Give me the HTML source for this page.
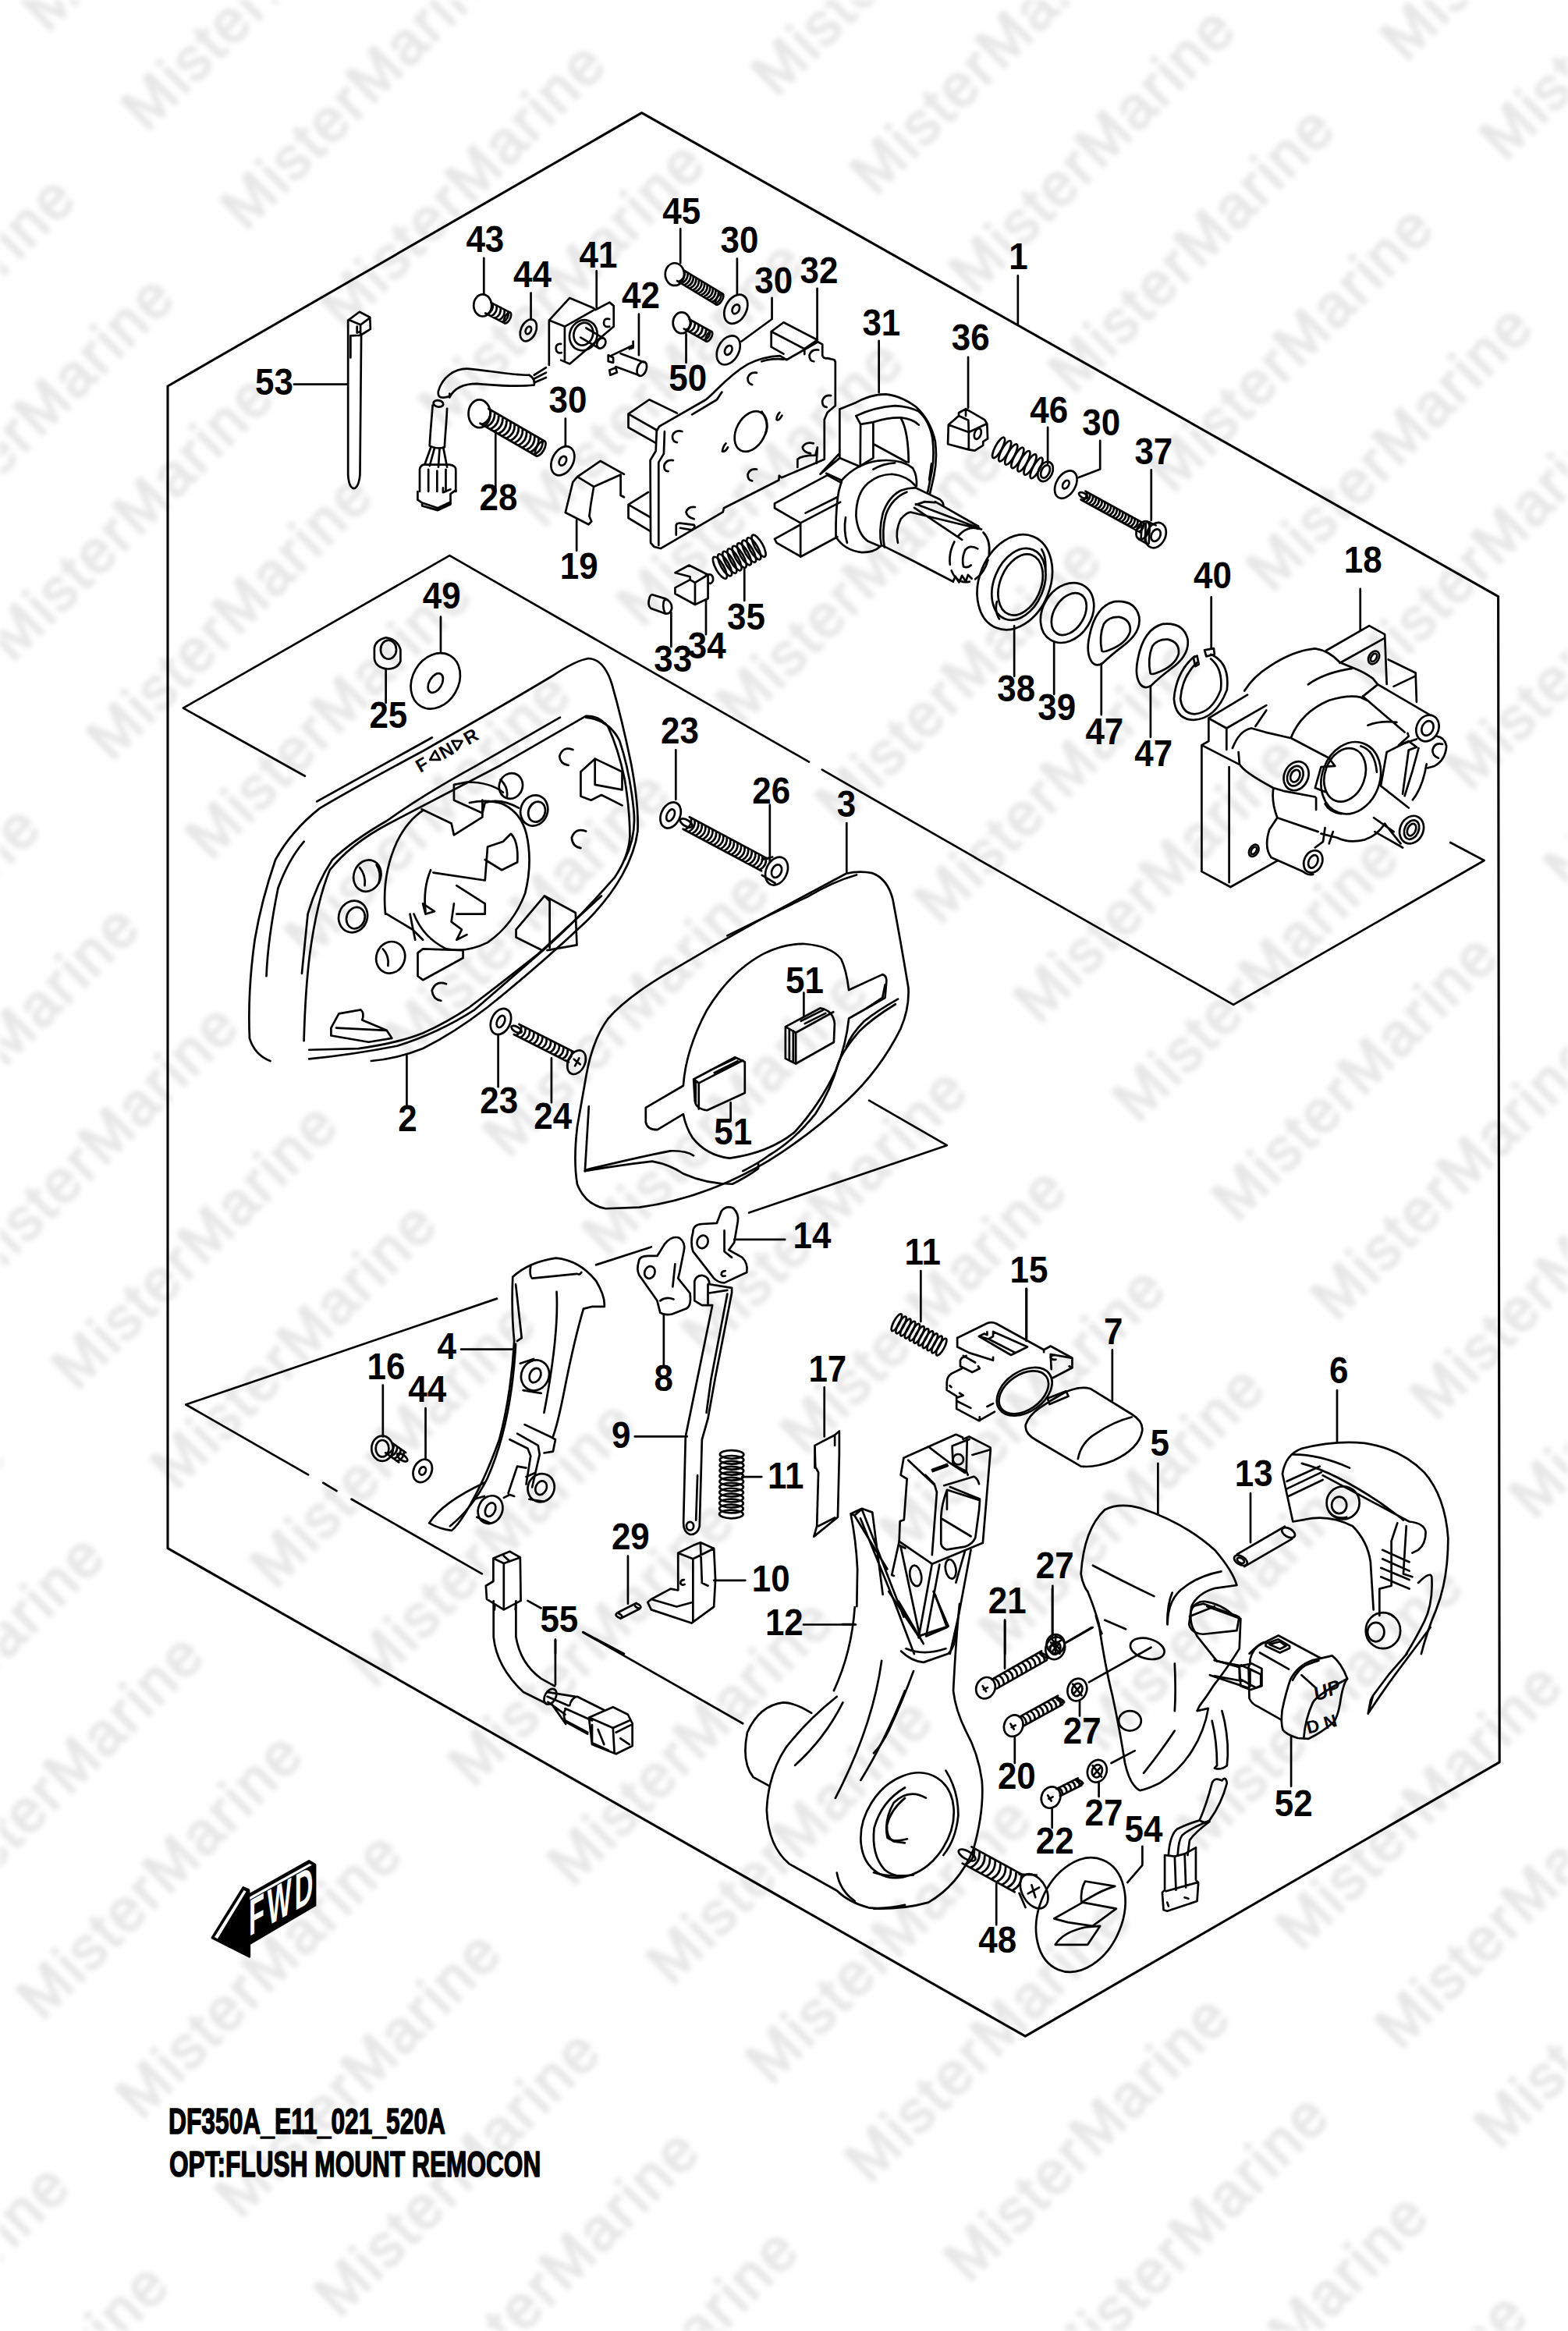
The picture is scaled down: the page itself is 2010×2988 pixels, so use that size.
<!DOCTYPE html>
<html><head><meta charset="utf-8"><style>
html,body{margin:0;padding:0;background:#fff;}
svg{display:block;}
.L{font-family:"Liberation Sans",sans-serif;font-weight:bold;font-size:48px;fill:#000;}
.t *{vector-effect:non-scaling-stroke;}
.w{font-family:"Liberation Sans",sans-serif;font-weight:normal;font-size:76px;letter-spacing:3.5px;fill:#e7e7e7;stroke:#e7e7e7;stroke-width:2.6px;}
</style></head><body>
<svg width="2010" height="2988" viewBox="0 0 2010 2988">
<defs>
<pattern id="wm" patternUnits="userSpaceOnUse" width="602.3" height="179.7" patternTransform="translate(1249,380) rotate(-45) translate(0,-130)">
<text class="w" x="0" y="130">MisterMarine</text>
</pattern>
<filter id="bl" x="0" y="0" width="1" height="1"><feGaussianBlur stdDeviation="3"/></filter>
</defs>
<rect x="0" y="0" width="2010" height="2988" fill="url(#wm)" filter="url(#bl)"/>
<g fill="none" stroke="#000" stroke-width="3.1" stroke-linejoin="round" stroke-linecap="round">
<path d="M215,495 L822.6,144.7 L1920.6,764.6 L1922.2,2258.8 L1314.3,2610.2 L215,1984.7 Z"/>
</g>
<g class="t" fill="none" stroke="#000" stroke-width="2.7" stroke-linejoin="round" stroke-linecap="round"><g transform="translate(200,130) scale(0.318878)"><path d="M555,1137 L770,1137"/><path d="M772,880 L818,846 L860,868 L862,915 L822,940 L782,942 L782,1030 M772,880 L772,1500 Q775,1552 795,1556 Q815,1552 820,1500 L825,940 M775,878 L822,898 L860,870 M822,898 L822,940 M808,905 L808,930 L820,925"/><path d="M1318,630 L1318,775"/><ellipse cx="1313" cy="820" rx="36" ry="44"/><path d="M1324,851.4 L1402,891.4 M1346,808.6 L1424,848.6 M1331.8,855.4 Q1357.7,841.7 1353.8,812.6 M1347.4,863.4 Q1373.3,849.7 1369.4,820.6 M1363,871.4 Q1388.9,857.7 1385,828.6 M1378.6,879.4 Q1404.5,865.7 1400.6,836.6 M1394.2,887.4 Q1420.1,873.7 1416.2,844.6"/><ellipse cx="1413" cy="870" rx="24" ry="10.8" transform="rotate(117.1 1413 870)"/><path d="M1507,770 L1507,875"/><ellipse cx="1497" cy="920" rx="30" ry="46" transform="rotate(25 1497 920)"/><ellipse cx="1497" cy="920" rx="10.5" ry="16.1" transform="rotate(25 1497 920)"/><path d="M1135,1165 C1150,1110 1200,1070 1260,1075 C1330,1080 1420,1100 1500,1100 M1180,1190 C1200,1150 1240,1135 1290,1135 C1360,1140 1440,1150 1520,1140 M1500,1100 Q1525,1115 1520,1140 M1135,1165 Q1130,1195 1160,1190 Q1185,1188 1180,1175"/><path d="M1520,1100 L1568,1070 M1520,1115 L1568,1090 M1522,1130 L1568,1110"/><path d="M1112,1222 C1108,1280 1102,1330 1100,1385 M1170,1235 C1168,1290 1162,1340 1160,1390 M1100,1385 Q1130,1400 1160,1390"/><ellipse cx="1135" cy="1215" rx="20" ry="13" transform="rotate(10 1135 1215)"/><path d="M1105,1390 L1080,1460 M1120,1392 L1100,1465 M1140,1394 L1135,1470 M1155,1392 L1170,1470"/><path d="M1060,1478 L1060,1568 M1205,1478 L1205,1568 M1060,1478 Q1065,1455 1090,1460 L1180,1460 Q1205,1465 1205,1478 M1095,1480 L1095,1568 M1130,1485 L1130,1568 M1165,1480 L1165,1568"/><ellipse cx="1300" cy="1255" rx="44" ry="56"/><path d="M1303,1294.4 L1528,1424.4 M1337,1235.6 L1562,1365.6 M1311,1299.1 Q1348.6,1281.5 1345,1240.2 M1327.1,1308.4 Q1364.7,1290.8 1361.1,1249.5 M1343.2,1317.7 Q1380.8,1300.1 1377.2,1258.8 M1359.2,1326.9 Q1396.9,1309.4 1393.3,1268.1 M1375.3,1336.2 Q1412.9,1318.7 1409.3,1277.3 M1391.4,1345.5 Q1429,1328 1425.4,1286.6 M1407.5,1354.8 Q1445.1,1337.3 1441.5,1295.9 M1423.5,1364.1 Q1461.1,1346.5 1457.5,1305.2 M1439.6,1373.4 Q1477.2,1355.8 1473.6,1314.5 M1455.7,1382.7 Q1493.3,1365.1 1489.7,1323.8 M1471.7,1391.9 Q1509.4,1374.4 1505.8,1333.1 M1487.8,1401.2 Q1525.4,1383.7 1521.8,1342.3 M1503.9,1410.5 Q1541.5,1393 1537.9,1351.6 M1520,1419.8 Q1557.6,1402.3 1554,1360.9"/><ellipse cx="1545" cy="1395" rx="34" ry="15.3" transform="rotate(120 1545 1395)"/><path d="M1365,1330 L1365,1568"/></g><g transform="translate(700,130) scale(0.318878)"><path d="M540,512 L540,650 M768,632 L768,775 M203,682 L203,828 M373,855 L373,1020 M908,790 L908,875 L785,965 M1090,752 L1090,955 M1338,962 L1338,1170 M563,935 L563,1050 M78,1275 L78,1385"/><ellipse cx="517" cy="695" rx="38" ry="45"/><path d="M527.1,721.4 L684.1,816.4 M552.9,678.6 L709.9,773.6 M532.7,724.8 Q560.6,712.5 558.5,682 M543.9,731.6 Q571.8,719.2 569.8,688.8 M555.1,738.4 Q583,726 581,695.6 M566.3,745.1 Q594.2,732.8 592.2,702.4 M577.5,751.9 Q605.4,739.6 603.4,709.1 M588.7,758.7 Q616.7,746.4 614.6,715.9 M600,765.5 Q627.9,753.2 625.8,722.7 M611.2,772.3 Q639.1,760 637,729.5 M622.4,779.1 Q650.3,766.7 648.3,736.3 M633.6,785.9 Q661.5,773.5 659.5,743.1 M644.8,792.6 Q672.7,780.3 670.7,749.9 M656,799.4 Q683.9,787.1 681.9,756.6 M667.2,806.2 Q695.2,793.9 693.1,763.4 M678.5,813 Q706.4,800.7 704.3,770.2"/><ellipse cx="697" cy="795" rx="25" ry="11.2" transform="rotate(121.2 697 795)"/><ellipse cx="763" cy="835" rx="42" ry="62" transform="rotate(28 763 835)"/><ellipse cx="763" cy="835" rx="13.4" ry="19.8" transform="rotate(28 763 835)"/><ellipse cx="545" cy="890" rx="35" ry="42"/><path d="M554.3,914.2 L644.3,964.2 M575.7,875.8 L665.7,925.8 M561.8,918.4 Q586,906.6 583.2,879.9 M576.8,926.7 Q601,915 598.2,888.3 M591.8,935.1 Q616,923.3 613.2,896.6 M606.8,943.4 Q631,931.6 628.2,904.9 M621.8,951.7 Q646,940 643.2,913.3 M636.8,960.1 Q661,948.3 658.2,921.6"/><ellipse cx="655" cy="945" rx="22" ry="9.9" transform="rotate(119.1 655 945)"/><ellipse cx="733" cy="1000" rx="42" ry="62" transform="rotate(28 733 1000)"/><ellipse cx="733" cy="1000" rx="13.4" ry="19.8" transform="rotate(28 733 1000)"/><ellipse cx="67" cy="1445" rx="42" ry="62" transform="rotate(28 67 1445)"/><ellipse cx="67" cy="1445" rx="13.4" ry="19.8" transform="rotate(28 67 1445)"/><path d="M12,880 L95,790 L190,830 L198,838 L255,808 L272,822 L272,905 L95,1055 L60,1040 M12,880 L75,905 L190,840 M75,905 L75,1040 M12,880 L12,1060"/><path d="M255,875 Q232,870 232,890 Q232,910 255,905 M60,975 Q38,972 40,995 Q42,1015 62,1010"/><ellipse cx="150" cy="940" rx="55" ry="62" transform="rotate(20 150 940)"/><ellipse cx="150" cy="935" rx="38" ry="46" transform="rotate(20 150 935)"/><path d="M138.9,949 L210.9,991 M161.1,911 L233.1,953"/><ellipse cx="222" cy="972" rx="16" ry="22" transform="rotate(30 222 972)"/><path d="M262,1022 L350,980 M350,965 L350,990 L335,995 M250,1020 L270,1030 L270,1050 L250,1045 Z M255,1080 L280,1070 L285,1090 L258,1100 Z"/><path d="M280.3,1066.3 L375.3,1101.3 M299.7,1013.7 L394.7,1048.7"/><ellipse cx="385" cy="1075" rx="18" ry="30" transform="rotate(20 385 1075)"/></g><g transform="translate(780,400) scale(0.255102)"><path d="M818,98 L880,52 L1050,140 M818,98 L818,175 L880,210 M818,98 L985,185 L1050,140 M985,185 L985,212"/><path d="M255,575 L490,440 C540,400 600,320 700,262 C760,232 820,222 862,220 L895,240 L1052,150 L1075,162 L1075,218 Q1080,235 1100,232 L1135,240 L1140,250 L1140,470 L1100,505 L1085,540 L1085,740 L870,832 L858,822 L856,845 L580,985 L575,1005 L262,1188 L230,1180 L212,1160 L210,745 L238,698 L242,598 Z"/><path d="M282,600 L278,712 L252,755 L252,1172 M420,515 L545,440 L570,402 M770,248 C800,238 850,232 880,238"/><path d="M100,512 L205,440 L345,508 M100,512 L240,592 M100,512 L100,580 L238,658"/><path d="M100,968 L200,905 M100,968 L208,1030 M100,968 L100,1035 L208,1100"/><ellipse cx="715" cy="600" rx="72" ry="108" transform="rotate(28 715 600)"/><path d="M770,500 Q810,560 790,610"/><path d="M370,600 Q335,590 322,620 Q318,650 345,655 M325,745 Q290,740 280,770 Q278,800 300,800 M745,305 Q710,300 700,330 Q698,360 722,365 M1055,190 Q1020,185 1010,215 Q1008,245 1032,248 M1118,420 Q1085,415 1075,445 Q1072,475 1096,478 M745,790 Q710,785 700,815 Q698,845 722,848"/><path d="M435,980 Q400,975 390,1005 Q395,1030 430,1040 M340,1120 L340,1070 Q345,1058 370,1062 L430,1070 Q440,1080 420,1095 L360,1085"/><path d="M1030,660 Q990,650 975,680 Q980,705 1015,710 M950,780 L950,740 Q970,720 1040,720 L1050,680 L1045,760"/><path d="M860,505 Q845,520 845,540 Q855,550 872,520 M590,660 Q575,675 572,700 Q585,705 600,680"/><path d="M835,962 L1100,820 L1170,858 M835,962 L835,985 L965,1060 L1165,955 M965,1060 L965,1230 L1150,1130 M835,1140 L845,1160 L965,1228 M990,1010 L1150,930 M835,1140 L965,1068"/><ellipse cx="560" cy="1285" rx="20.5" ry="62" transform="rotate(-29.4 560 1285)"/><ellipse cx="584.4" cy="1271.2" rx="20.5" ry="62" transform="rotate(-29.4 584.4 1271.2)"/><ellipse cx="608.8" cy="1257.5" rx="20.5" ry="62" transform="rotate(-29.4 608.8 1257.5)"/><ellipse cx="633.1" cy="1243.8" rx="20.5" ry="62" transform="rotate(-29.4 633.1 1243.8)"/><ellipse cx="657.5" cy="1230" rx="20.5" ry="62" transform="rotate(-29.4 657.5 1230)"/><ellipse cx="681.9" cy="1216.2" rx="20.5" ry="62" transform="rotate(-29.4 681.9 1216.2)"/><ellipse cx="706.2" cy="1202.5" rx="20.5" ry="62" transform="rotate(-29.4 706.2 1202.5)"/><ellipse cx="730.6" cy="1188.8" rx="20.5" ry="62" transform="rotate(-29.4 730.6 1188.8)"/><ellipse cx="755" cy="1175" rx="20.5" ry="62" transform="rotate(-29.4 755 1175)"/><path d="M683,1290 L683,1450"/><path d="M335,1310 L405,1272 L500,1320 L500,1440 L435,1470 L335,1415 L335,1385 L410,1345 L410,1330 L335,1310 Z M410,1345 L435,1360 L435,1470 M435,1360 L500,1320 M490,1320 Q530,1310 525,1350 Q518,1370 500,1360"/><path d="M490,1445 L490,1620 M315,1510 L315,1682"/><path d="M220,1420 L285,1440 Q320,1455 318,1490 Q310,1520 285,1515 L215,1490 Q195,1475 205,1440 Q210,1420 220,1420 Z M285,1440 Q265,1470 285,1515"/></g><g transform="translate(1150,380) scale(0.255102)"><path d="M607,-104 L607,140 M357,305 L357,560 M757,658 L757,840 M1020,725 L1020,868 L910,910 M1277,872 L1277,1125"/><path d="M258,645 L310,600 L310,585 L345,565 L362,575 L440,620 L452,640 L455,715 L432,730 L432,748 L390,775 L360,770 L255,742 Z M258,645 L360,682 L360,770 M360,682 L450,640 M310,600 L358,622 L360,682 M345,565 L345,600"/><ellipse cx="405" cy="690" rx="16" ry="28" transform="rotate(20 405 690)"/><ellipse cx="510" cy="760" rx="17.4" ry="58" transform="rotate(28.2 510 760)"/><ellipse cx="541.7" cy="777" rx="17.4" ry="58" transform="rotate(28.2 541.7 777)"/><ellipse cx="573.3" cy="794" rx="17.4" ry="58" transform="rotate(28.2 573.3 794)"/><ellipse cx="605" cy="811" rx="17.4" ry="58" transform="rotate(28.2 605 811)"/><ellipse cx="636.7" cy="828" rx="17.4" ry="58" transform="rotate(28.2 636.7 828)"/><ellipse cx="668.3" cy="845" rx="17.4" ry="58" transform="rotate(28.2 668.3 845)"/><ellipse cx="700" cy="862" rx="17.4" ry="58" transform="rotate(28.2 700 862)"/><ellipse cx="745" cy="880" rx="35" ry="52" transform="rotate(25 745 880)"/><ellipse cx="745" cy="880" rx="20" ry="34" transform="rotate(25 745 880)"/><ellipse cx="848" cy="945" rx="48" ry="75" transform="rotate(30 848 945)"/><ellipse cx="848" cy="945" rx="14.4" ry="22.5" transform="rotate(30 848 945)"/><path d="M923.4,1021 L1223.4,1186 M946.6,979 L1246.6,1144 M930.9,1025.2 Q957.2,1012.2 954.1,983.1 M945.9,1033.4 Q972.2,1020.5 969.1,991.3 M960.9,1041.7 Q987.2,1028.7 984.1,999.6 M975.9,1049.9 Q1002.2,1037 999.1,1007.8 M990.9,1058.2 Q1017.2,1045.2 1014.1,1016.1 M1005.9,1066.4 Q1032.2,1053.5 1029.1,1024.3 M1020.9,1074.7 Q1047.2,1061.7 1044.1,1032.6 M1035.9,1082.9 Q1062.2,1070 1059.1,1040.8 M1050.9,1091.2 Q1077.2,1078.2 1074.1,1049.1 M1065.9,1099.4 Q1092.2,1086.5 1089.1,1057.3 M1080.9,1107.7 Q1107.2,1094.7 1104.1,1065.6 M1095.9,1115.9 Q1122.2,1103 1119.1,1073.8 M1110.9,1124.2 Q1137.2,1111.2 1134.1,1082.1 M1125.9,1132.4 Q1152.2,1119.5 1149.1,1090.3 M1140.9,1140.7 Q1167.2,1127.7 1164.1,1098.6 M1155.9,1148.9 Q1182.2,1136 1179.1,1106.8 M1170.9,1157.2 Q1197.2,1144.2 1194.1,1115.1 M1185.9,1165.4 Q1212.2,1152.5 1209.1,1123.3 M1200.9,1173.7 Q1227.2,1160.7 1224.1,1131.6 M1215.9,1181.9 Q1242.2,1169 1239.1,1139.8"/><ellipse cx="935" cy="1000" rx="12" ry="24" transform="rotate(-60 935 1000)"/><path d="M1255,1130 L1300,1150 M1215,1220 L1260,1245"/><ellipse cx="1300" cy="1200" rx="48" ry="66" transform="rotate(25 1300 1200)"/><ellipse cx="1300" cy="1200" rx="22" ry="32" transform="rotate(25 1300 1200)"/><ellipse cx="1235" cy="1175" rx="30" ry="48" transform="rotate(25 1235 1175)"/><path d="M1230,1150 L1225,1220 M1250,1140 L1245,1232 M1270,1135 L1265,1240"/></g><g transform="translate(1230,650) scale(0.318878)"><path d="M1012,362 L1012,570 M220,478 L220,680 M380,545 L380,752 M570,630 L570,835 M768,720 L768,925"/><ellipse cx="222" cy="302" rx="142" ry="198" transform="rotate(22 222 302)"/><ellipse cx="238" cy="310" rx="100" ry="150" transform="rotate(22 238 310)"/><ellipse cx="245" cy="312" rx="82" ry="128" transform="rotate(22 245 312)"/><path d="M150,380 Q140,420 160,450 M330,170 Q350,200 345,260"/><ellipse cx="433" cy="425" rx="98" ry="128" transform="rotate(32 433 425)"/><ellipse cx="440" cy="430" rx="60" ry="92" transform="rotate(32 440 430)"/><g transform="translate(0,0)"><path d="M530,620 Q508,585 522,520 Q545,400 622,380 Q705,372 722,440 Q732,505 655,560 Q605,598 575,628 Q548,645 530,620 Z"/><path d="M572,578 Q560,520 580,470 Q600,440 642,442 Q690,452 686,500 Q672,548 602,575 Q578,585 572,578 Z"/></g><g transform="translate(195,90)"><path d="M530,620 Q508,585 522,520 Q545,400 622,380 Q705,372 722,440 Q732,505 655,560 Q605,598 575,628 Q548,645 530,620 Z"/><path d="M572,578 Q560,520 580,470 Q600,440 642,442 Q690,452 686,500 Q672,548 602,575 Q578,585 572,578 Z"/></g><path d="M945,600 Q872,660 862,770 Q868,852 940,856 Q1030,852 1075,735 Q1088,625 1010,592 M955,625 Q895,680 888,770 Q895,830 945,832 Q1015,826 1050,735 Q1060,650 1010,610"/><path d="M940,605 L955,598 L962,632 L948,640 Z M985,575 L1022,568 L1025,592 L992,600 Z"/></g><g transform="translate(1520,760) scale(0.255102)"><path d="M877,-20 L877,185"/><path d="M705,290 L922,165 L1000,208 L1010,458 M775,352 L998,228 M1018,335 L1155,402 L1160,548 M1045,470 L1150,420"/><ellipse cx="945" cy="325" rx="25" ry="35" transform="rotate(30 945 325)"/><ellipse cx="945" cy="325" rx="13" ry="22" transform="rotate(30 945 325)"/><path d="M115,630 L310,512 M115,630 L205,680 L205,788 M205,680 L405,565 M115,630 L115,745 L80,765 L80,1400 L225,1478 L462,1345 M80,765 L265,860 M218,875 L218,1455"/><ellipse cx="342" cy="1295" rx="22" ry="32" transform="rotate(30 342 1295)"/><ellipse cx="342" cy="1295" rx="12" ry="20" transform="rotate(30 342 1295)"/><path d="M295,492 Q340,420 420,370 Q540,290 650,280 Q720,290 775,350 L850,380 Q900,400 940,430 L965,460 L890,520 M615,460 Q700,400 835,380 M350,670 L405,590"/><path d="M965,460 L1230,615 M890,520 L1100,700 M530,725 Q580,600 720,540 Q820,510 880,525 L910,540 M915,665 Q980,640 1060,650"/><ellipse cx="1215" cy="680" rx="55" ry="68" transform="rotate(25 1215 680)"/><ellipse cx="1215" cy="680" rx="28" ry="38" transform="rotate(25 1215 680)"/><path d="M1115,705 L1120,720 L1070,765 L1160,735 M1260,720 Q1300,725 1310,770 Q1305,840 1250,870 L1215,880 M1290,760 Q1250,750 1240,790 Q1240,820 1270,830"/><path d="M235,780 Q270,690 330,680 L400,700 L530,730 L720,830 M265,800 L270,860 Q290,900 440,980 L490,995 L650,1025 M720,830 L750,870 L680,875 L650,980 L700,1000"/><ellipse cx="555" cy="920" rx="60" ry="75" transform="rotate(25 555 920)"/><ellipse cx="550" cy="920" rx="38" ry="52" transform="rotate(25 550 920)"/><ellipse cx="550" cy="920" rx="22" ry="32" transform="rotate(25 550 920)"/><ellipse cx="800" cy="915" rx="100" ry="138" transform="rotate(20 800 915)"/><ellipse cx="830" cy="930" rx="145" ry="185" transform="rotate(20 830 930)"/><path d="M700,1060 Q720,1100 780,1110 M880,770 Q950,790 960,900"/><path d="M1010,800 L1120,745 L1160,775 L1120,790 L1090,1010 M1010,800 L980,970 L1120,1080 M1170,780 Q1140,900 1100,1020 M1210,860 Q1190,980 1140,1040"/><ellipse cx="1135" cy="1190" rx="58" ry="72" transform="rotate(25 1135 1190)"/><ellipse cx="1135" cy="1190" rx="35" ry="50" transform="rotate(25 1135 1190)"/><ellipse cx="1135" cy="1190" rx="20" ry="32" transform="rotate(25 1135 1190)"/><path d="M1000,1160 L1080,1260 M945,1130 L1045,1200 M950,1200 L1090,1280"/><path d="M440,985 Q430,1050 460,1130 L420,1190 Q392,1280 430,1330 L590,1400 Q610,1420 640,1415 M460,1130 L665,1200 M680,1210 L760,1230 Q820,1260 900,1240 Q960,1220 1000,1160 M655,1030 L655,1090 M700,1180 L690,1250 L650,1280 M740,1200 L720,1260"/><ellipse cx="640" cy="1350" rx="45" ry="58" transform="rotate(25 640 1350)"/><ellipse cx="640" cy="1350" rx="22" ry="34" transform="rotate(25 640 1350)"/></g><g transform="translate(200,1520) scale(0.382653)"><path d="M100,733 L1142,378 M100,733 L510,968 M560,995 L605,1022 M655,1050 L1092,1300"/><path d="M1022,548 L1195,548 M760,668 L760,840 M903,745 L903,915 M1245,1390 L1290,1415 M1338,1520 L1338,1568 M1430,1495 L1568,1568"/><ellipse cx="758" cy="880" rx="36" ry="42"/><ellipse cx="758" cy="880" rx="22" ry="28"/><path d="M768.4,894.3 L813.4,926.3 M791.6,861.7 L836.6,893.7 M774,898.3 Q797,890.1 797.2,865.7 M785.3,906.3 Q808.3,898.1 808.5,873.7 M796.5,914.3 Q819.5,906.1 819.7,881.7 M807.8,922.3 Q830.8,914.1 831,889.7"/><ellipse cx="825" cy="910" rx="9" ry="20" transform="rotate(-55 825 910)"/><ellipse cx="893" cy="955" rx="30" ry="40" transform="rotate(25 893 955)"/><ellipse cx="893" cy="955" rx="10.5" ry="14" transform="rotate(25 893 955)"/><path d="M1195,305 Q1190,420 1200,520 Q1190,700 1150,850 Q1100,990 1040,1090 Q1010,1140 990,1155 Q950,1150 915,1130 Q960,1060 1100,995 M1195,305 Q1250,255 1340,242 Q1420,250 1475,320 Q1505,370 1502,405 L1460,405 L1432,412 Q1400,520 1365,700 Q1345,800 1330,840"/><path d="M1205,330 Q1215,420 1225,510 L1210,520 M1255,270 Q1250,300 1260,310 L1410,295 Q1420,300 1425,290 M1342,355 Q1350,500 1300,760 M1205,530 Q1190,800 1110,980 Q1060,1080 985,1140"/><ellipse cx="1270" cy="635" rx="46" ry="52" transform="rotate(25 1270 635)"/><ellipse cx="1270" cy="635" rx="18" ry="25" transform="rotate(25 1270 635)"/><path d="M1220,595 L1265,580 M1230,685 L1290,695"/><ellipse cx="1290" cy="1012" rx="44" ry="48" transform="rotate(25 1290 1012)"/><ellipse cx="1290" cy="1012" rx="18" ry="24" transform="rotate(25 1290 1012)"/><path d="M1240,975 L1270,962 M1250,1050 L1300,1058"/><ellipse cx="1120" cy="1085" rx="40" ry="48" transform="rotate(25 1120 1085)"/><ellipse cx="1120" cy="1085" rx="16" ry="24" transform="rotate(25 1120 1085)"/><path d="M1065,1050 L1100,1040 M1075,1110 L1120,1130"/><path d="M1185,850 L1245,880 L1255,905 L1240,1000 M1210,830 L1280,870 L1285,900 L1260,1010 M1235,800 L1320,840 L1338,850 L1330,890 L1300,895 M1180,1030 L1210,940 L1240,945 M1200,1040 L1185,1035 L1165,1045"/><path d="M1130,1248 L1185,1225 L1220,1245 L1222,1390 L1165,1420 L1108,1385 L1105,1340 L1130,1325 Z M1165,1265 L1165,1420 M1130,1248 L1165,1265 L1220,1245 M1165,1240 L1185,1258"/><path d="M1135,1405 L1134,1420 M1205,1405 L1204,1420"/></g><g transform="translate(720,1520) scale(0.382653)"><path d="M578,180 L748,180 M1203,285 L1203,455 M342,430 L342,600 M880,675 L880,840 M245,840 L420,840 M605,975 L670,975 M222,1240 L222,1400 M510,1322 L615,1322 M810,1470 L985,1470 M1485,1455 L1485,1568"/><path d="M115,265 L300,205"/><path d="M440,155 Q440,130 470,128 L520,125 L535,85 Q550,65 575,75 Q595,95 590,120 L578,190 L560,215 L605,240 Q625,260 620,290 L545,325 Q525,325 510,310 L440,220 Q430,190 440,155 Z M545,150 L545,220 L570,240"/><ellipse cx="472" cy="188" rx="18" ry="22" transform="rotate(20 472 188)"/><path d="M548,285 Q535,285 535,298 Q538,305 548,302"/><path d="M258,255 Q260,235 290,235 L320,235 L345,195 Q370,165 395,175 Q415,190 410,215 L395,290 L390,310 L430,360 Q435,400 420,410 L370,430 Q345,435 330,425 L320,385 L260,300 Q250,280 258,255 Z M380,262 L372,338 M330,385 Q350,370 375,380"/><ellipse cx="295" cy="290" rx="17" ry="21" transform="rotate(20 295 290)"/><path d="M445,320 Q450,300 470,300 Q495,305 495,330 L570,342 L570,358 L515,640 L490,780 L470,850 L462,1140 Q455,1170 430,1168 Q408,1160 408,1130 L415,840 L505,400 L470,400 L445,385 Z M490,360 L555,350 M555,362 L500,650 L485,760 M455,970 L450,1120 M490,330 L490,395"/><ellipse cx="430" cy="1140" rx="12" ry="14"/><ellipse cx="570" cy="900" rx="14" ry="40" transform="rotate(90.6 570 900)"/><ellipse cx="569.8" cy="918.2" rx="14" ry="40" transform="rotate(90.6 569.8 918.2)"/><ellipse cx="569.6" cy="936.4" rx="14" ry="40" transform="rotate(90.6 569.6 936.4)"/><ellipse cx="569.5" cy="954.5" rx="14" ry="40" transform="rotate(90.6 569.5 954.5)"/><ellipse cx="569.3" cy="972.7" rx="14" ry="40" transform="rotate(90.6 569.3 972.7)"/><ellipse cx="569.1" cy="990.9" rx="14" ry="40" transform="rotate(90.6 569.1 990.9)"/><ellipse cx="568.9" cy="1009.1" rx="14" ry="40" transform="rotate(90.6 568.9 1009.1)"/><ellipse cx="568.7" cy="1027.3" rx="14" ry="40" transform="rotate(90.6 568.7 1027.3)"/><ellipse cx="568.5" cy="1045.5" rx="14" ry="40" transform="rotate(90.6 568.5 1045.5)"/><ellipse cx="568.4" cy="1063.6" rx="14" ry="40" transform="rotate(90.6 568.4 1063.6)"/><ellipse cx="568.2" cy="1081.8" rx="14" ry="40" transform="rotate(90.6 568.2 1081.8)"/><ellipse cx="568" cy="1100" rx="14" ry="40" transform="rotate(90.6 568 1100)"/><ellipse cx="1122" cy="458" rx="9.6" ry="32" transform="rotate(28.7 1122 458)"/><ellipse cx="1137" cy="466.2" rx="9.6" ry="32" transform="rotate(28.7 1137 466.2)"/><ellipse cx="1152" cy="474.4" rx="9.6" ry="32" transform="rotate(28.7 1152 474.4)"/><ellipse cx="1167" cy="482.6" rx="9.6" ry="32" transform="rotate(28.7 1167 482.6)"/><ellipse cx="1182" cy="490.8" rx="9.6" ry="32" transform="rotate(28.7 1182 490.8)"/><ellipse cx="1197" cy="499" rx="9.6" ry="32" transform="rotate(28.7 1197 499)"/><ellipse cx="1212" cy="507.2" rx="9.6" ry="32" transform="rotate(28.7 1212 507.2)"/><ellipse cx="1227" cy="515.4" rx="9.6" ry="32" transform="rotate(28.7 1227 515.4)"/><ellipse cx="1242" cy="523.6" rx="9.6" ry="32" transform="rotate(28.7 1242 523.6)"/><ellipse cx="1257" cy="531.8" rx="9.6" ry="32" transform="rotate(28.7 1257 531.8)"/><ellipse cx="1272" cy="540" rx="9.6" ry="32" transform="rotate(28.7 1272 540)"/><path d="M848,870 L915,835 L930,822 L930,900 L925,1110 L845,1175 L855,1140 L860,960 L850,942 Z M848,870 L848,945 M860,1140 L915,1112 M915,835 L915,870"/><path d="M390,1230 L440,1205 L465,1195 L510,1215 L515,1320 L510,1410 L435,1465 L300,1420 L288,1395 L300,1385 L365,1350 L390,1355 Z M390,1230 L440,1250 L440,1460 M440,1250 L510,1215 M465,1198 L470,1330 L490,1340 M300,1385 L385,1410 L440,1395 M365,1350 L390,1355"/><path d="M410,1320 Q398,1320 398,1332 Q402,1340 412,1335"/><path d="M197,1449.8 L260,1417.8 M187,1430.2 L250,1398.2"/><ellipse cx="192" cy="1440" rx="6" ry="11" transform="rotate(-60 192 1440)"/><ellipse cx="255" cy="1408" rx="6" ry="11" transform="rotate(-60 255 1408)"/></g><g transform="translate(1290,1520) scale(0.382653)"><path d="M68,345 L68,515 M355,550 L355,720 M1108,685 L1108,855 M508,930 L508,1100 M818,1030 L818,1195 M155,1340 L155,1505"/><path d="M65,800 Q75,770 110,745 L145,722 L200,690 Q250,670 282,680 L420,765 Q460,790 455,822 Q445,880 360,920 Q300,945 250,940 L100,852 Q60,830 65,800 Z M240,915 Q250,860 300,830 Q360,790 420,775 M138,712 L200,688 L208,705 L145,732 Z"/><path d="M272,1359 Q255,1335 250,1300 Q260,1150 330,1085 Q380,1060 450,1080 Q600,1130 700,1222 Q758,1290 772,1338 L700,1348 Q640,1365 620,1410 L612,1470 Q620,1500 660,1502 L772,1490 L780,1445 L770,1440 M620,1410 L660,1400 L770,1440 M290,1272 Q400,1330 495,1375 M540,1470 Q540,1380 600,1342 Q650,1305 720,1292 M330,1455 L400,1485 M300,1440 Q310,1480 320,1500"/><path d="M797.1,1275.7 L957.1,1182.7 M772.9,1234.3 L932.9,1141.3"/><ellipse cx="785" cy="1255" rx="14" ry="24" transform="rotate(-60 785 1255)"/><ellipse cx="785" cy="1255" rx="8" ry="13" transform="rotate(-60 785 1255)"/><ellipse cx="945" cy="1162" rx="14" ry="24" transform="rotate(-60 945 1162)"/><path d="M925,965 Q935,900 990,880 Q1100,852 1200,862 Q1320,880 1400,960 Q1470,1040 1480,1180 Q1480,1320 1440,1420 Q1410,1490 1390,1568 M925,965 L960,1125 L1000,1118 M960,900 Q1050,900 1150,945 M990,930 Q1100,960 1250,1060 Q1320,1110 1330,1120 M940,990 L1050,940 M945,1040 L1060,985 M940,1015 L1055,960 M1060,970 L1350,1125 Q1400,1130 1405,1160 Q1405,1200 1380,1220 L1360,1230 M1000,1118 Q1080,1100 1160,1140 Q1210,1190 1220,1260 L1230,1420"/><path d="M1310,1130 L1290,1190 L1290,1340 L1250,1350 L1250,1440 M1260,1220 L1350,1260 M1260,1250 L1350,1290 M1255,1280 L1350,1320 M1255,1310 L1350,1350 M1340,1140 L1330,1300 L1360,1310 M1380,1330 Q1420,1290 1425,1310 Q1430,1400 1400,1460 Q1370,1520 1340,1568"/><ellipse cx="1128" cy="1062" rx="55" ry="55"/><ellipse cx="1115" cy="1070" rx="25" ry="28"/><path d="M1080,1090 Q1100,1120 1140,1110"/><ellipse cx="1262" cy="1490" rx="58" ry="60"/><ellipse cx="1238" cy="1495" rx="28" ry="32"/><ellipse cx="165" cy="1535" rx="30" ry="32"/><path d="M150,1515 L180,1555 M145,1545 L185,1522 M165,1505 L165,1565 M200,1530 L285,1480"/></g><g transform="translate(560,2060) scale(0.382653)"><path d="M397,110 L397,260 M490,85 L1025,390"/><path d="M190,-20 L190,100 Q200,200 290,285 L365,322 M265,-20 L265,100 Q280,190 350,240 L395,265"/><ellipse cx="380" cy="300" rx="18" ry="28" transform="rotate(30 380 300)"/><path d="M372,285 L465,300 M370,300 L440,330 M372,318 L430,360 M385,325 L432,392"/><path d="M470,300 L560,345 M430,340 L520,380 M430,380 L505,420 M470,300 Q450,305 445,330 M430,345 Q420,360 432,385 L505,425"/><path d="M510,370 L590,335 L640,360 L655,390 L655,465 L600,492 L520,460 L510,375 Z M510,370 L590,405 L645,380 M590,405 L595,490 M520,395 L520,455 L575,480 M540,410 L560,460 M600,420 L650,395 M615,440 L645,460"/><path d="M1255,355 Q1200,320 1160,320 Q1080,330 1040,420 Q1020,520 1060,570 L1115,600"/><path d="M1400,0 Q1390,150 1330,280 M1340,300 Q1240,380 1170,470 Q1110,560 1105,680 Q1110,800 1180,860 L1340,950 Q1380,990 1450,1008 Q1510,1012 1568,998"/><path d="M1490,180 Q1460,400 1335,640 M1568,280 Q1500,450 1420,580 M1200,530 Q1300,440 1360,320 M1340,890 Q1350,950 1400,985"/><path d="M1568,605 Q1490,650 1465,740 Q1455,830 1500,880 Q1530,905 1568,900 M1568,640 Q1520,680 1508,730 Q1505,770 1530,785 L1568,790"/></g><g transform="translate(1120,2040) scale(0.318878)"><path d="M718,-10 L718,180 M527,115 L527,310 M828,440 L828,500 M567,585 L567,690 M905,765 L905,825 M717,875 L717,950 M1080,1025 L1080,1100 L1020,1170 M493,1175 L493,1340"/><path d="M775,205 L880,145 M865,365 L1115,225 M955,690 L1050,640"/><ellipse cx="450" cy="388" rx="37.4" ry="44" transform="rotate(25 450 388)"/><path d="M438,380 L452,402 M442,394 L458,386"/><path d="M495.4,390.2 L695.4,276.2 M474.6,353.8 L674.6,239.8 M504.5,385.1 Q506.9,359.5 483.7,348.6 M522.7,374.7 Q525,349.2 501.9,338.2 M540.9,364.3 Q543.2,338.8 520.1,327.8 M559,354 Q561.4,328.4 538.2,317.5 M577.2,343.6 Q579.6,318.1 556.4,307.1 M595.4,333.2 Q597.8,307.7 574.6,296.8 M613.6,322.9 Q616,297.4 592.8,286.4 M631.8,312.5 Q634.1,287 611,276 M649.9,302.2 Q652.3,276.6 629.1,265.7 M668.1,291.8 Q670.5,266.3 647.3,255.3 M686.3,281.4 Q688.7,255.9 665.5,244.9"/><ellipse cx="685" cy="258" rx="5" ry="18.9" transform="rotate(-60 685 258)"/><ellipse cx="562" cy="540" rx="37.4" ry="44" transform="rotate(25 562 540)"/><path d="M550,532 L564,554 M554,546 L570,538"/><path d="M604.6,539.5 L759.6,454.5 M585.4,504.5 L740.4,419.5 M613.2,534.8 Q615.9,510.5 594,499.7 M630.4,525.4 Q633.1,501.1 611.2,490.3 M647.7,515.9 Q650.3,491.7 628.4,480.9 M664.9,506.5 Q667.6,482.2 645.7,471.4 M682.1,497 Q684.8,472.8 662.9,462 M699.3,487.6 Q702,463.3 680.1,452.5 M716.6,478.1 Q719.2,453.9 697.3,443.1 M733.8,468.7 Q736.4,444.4 714.6,433.6 M751,459.3 Q753.7,435 731.8,424.2"/><ellipse cx="750" cy="437" rx="5" ry="18" transform="rotate(-60 750 437)"/><ellipse cx="712" cy="828" rx="37.4" ry="44" transform="rotate(25 712 828)"/><path d="M700,820 L714,842 M704,834 L720,826"/><path d="M749.2,822.3 L835.2,779.3 M734.8,793.7 L820.8,750.7 M757.8,818 Q760.6,798.7 743.4,789.4 M775,809.4 Q777.8,790.1 760.6,780.8 M792.2,800.8 Q795,781.5 777.8,772.2 M809.4,792.2 Q812.2,772.9 795,763.6 M826.6,783.6 Q829.4,764.3 812.2,755"/><ellipse cx="828" cy="765" rx="5" ry="14.4" transform="rotate(-60 828 765)"/><ellipse cx="730" cy="228" rx="38" ry="46" transform="rotate(20 730 228)"/><ellipse cx="730" cy="228" rx="20" ry="26" transform="rotate(20 730 228)"/><ellipse cx="818" cy="395" rx="38" ry="46" transform="rotate(20 818 395)"/><ellipse cx="818" cy="395" rx="20" ry="26" transform="rotate(20 818 395)"/><ellipse cx="898" cy="722" rx="38" ry="46" transform="rotate(20 898 722)"/><ellipse cx="898" cy="722" rx="20" ry="26" transform="rotate(20 898 722)"/><path d="M712,205 L748,250 M715,245 L745,210 M800,372 L836,418 M803,412 L833,378 M880,700 L916,745 M883,740 L913,705"/><path d="M356.7,1093.3 L566.7,1208.3 M393.3,1026.7 L603.3,1141.7 M367.2,1099.1 Q408.8,1078.5 403.8,1032.4 M388.2,1110.6 Q429.8,1090 424.8,1043.9 M409.2,1122.1 Q450.8,1101.5 445.8,1055.4 M430.2,1133.6 Q471.8,1113 466.8,1066.9 M451.2,1145.1 Q492.8,1124.5 487.8,1078.4 M472.2,1156.6 Q513.8,1136 508.8,1089.9 M493.2,1168.1 Q534.8,1147.5 529.8,1101.4 M514.2,1179.6 Q555.8,1159 550.8,1112.9 M535.2,1191.1 Q576.8,1170.5 571.8,1124.4 M556.2,1202.6 Q597.8,1182 592.8,1135.9"/><ellipse cx="375" cy="1060" rx="16" ry="38" transform="rotate(-60 375 1060)"/><path d="M585,1137 L655,1140 M585,1213 L610,1270"/><ellipse cx="645" cy="1205" rx="48" ry="75" transform="rotate(-30 645 1205)"/><path d="M620,1215 L665,1190 M635,1180 L650,1230"/><ellipse cx="832" cy="1300" rx="168" ry="238" transform="rotate(22 832 1300)"/><path d="M850,1165 L970,1185 Q920,1200 870,1230 L835,1250 Q830,1200 850,1165 Z M725,1315 L840,1250 L975,1275 L880,1345 L780,1330 Z M730,1420 Q760,1370 850,1350 L910,1345 L860,1420 Z"/><path d="M1400,760 Q1415,740 1420,770 Q1400,850 1350,920 Q1330,935 1310,920 Q1340,850 1360,770 Q1370,745 1400,760 Z M1310,920 Q1260,935 1220,955 Q1190,980 1185,1060 M1330,930 Q1270,955 1240,980 Q1225,1000 1222,1060 M1350,925 Q1290,970 1270,1000 L1262,1060"/><path d="M1170,1060 L1170,1200 L1160,1210 L1165,1280 L1180,1285 L1300,1245 L1305,1170 L1295,1160 L1295,1030 M1210,1065 L1215,1200 M1250,1055 L1255,1190 M1290,1045 M1170,1060 L1210,1065 L1250,1055 L1295,1030 M1175,1205 L1300,1170 M1180,1250 L1185,1265 M1250,1230 L1265,1235"/><path d="M860,0 Q885,60 905,130 Q930,300 960,420 Q990,560 1010,690 Q1030,780 1070,800 Q1100,795 1150,770 Q1230,720 1280,640 Q1330,560 1345,470 L1300,480 L1310,460 Q1340,420 1365,380 Q1420,310 1470,230 L1475,110 L1450,100 Q1400,50 1330,40 Q1290,40 1275,80 Q1270,130 1290,160 L1300,180 M1085,730 Q1150,650 1210,560 M1200,5 Q1180,50 1180,130 M1300,180 L1380,280"/><path d="M1210,290 Q1215,400 1210,480 M1340,60 L1450,100 M1270,100 L1370,60"/><path d="M1360,520 Q1380,600 1380,700 L1370,710 Q1395,720 1420,700 Q1430,620 1410,520 L1400,480"/><path d="M1380,280 L1480,300 M1370,340 L1480,360 M1470,300 L1520,290 L1560,310 L1560,380 L1515,395 L1475,380 Z M1510,250 Q1550,210 1568,205"/><ellipse cx="1100" cy="230" rx="70" ry="40" transform="rotate(15 1100 230)"/><ellipse cx="1030" cy="520" rx="45" ry="40"/><path d="M345,50 Q330,200 320,400 Q330,480 370,560 Q420,650 435,760 Q445,880 400,1040 Q340,1180 220,1250 Q120,1278 0,1275 M160,320 Q120,430 60,560 Q30,620 0,650 M0,1130 Q60,1150 160,1140"/><ellipse cx="135" cy="940" rx="170" ry="225" transform="rotate(32 135 940)"/><path d="M210,830 Q140,790 80,850 Q40,920 55,990 Q80,1010 135,995 M290,720 Q340,800 340,900 Q330,1000 280,1060"/><path d="M60,0 L180,180 L300,140 L240,0 M100,40 L200,210 M110,240 Q150,280 200,285 L300,250 Q330,220 330,160 M130,230 Q200,260 290,230"/></g><g transform="translate(200,680) scale(0.669643)"><path d="M562,48 L52,340 L285,470 M562,48 L1250,443 M1275,458 L1568,626 M1365,1091 L1514,1177 L1135,1306"/><path d="M480,1005 L480,1100 M545,165 L545,232 M440,265 L440,330 M995,420 L995,515 M1175,525 L1175,635 M1322,560 L1322,655 M1240,885 L1240,930 M1100,1095 L1100,1130 M655,965 L655,1065 M757,1010 L757,1095"/><ellipse cx="535" cy="288" rx="44" ry="56" transform="rotate(30 535 288)"/><ellipse cx="535" cy="292" rx="12" ry="20" transform="rotate(30 535 292)"/><path d="M418,225 Q420,210 440,205 Q462,208 468,228 L468,250 Q462,266 442,265 Q420,262 418,245 Z"/><ellipse cx="445" cy="228" rx="15" ry="18"/><ellipse cx="985" cy="545" rx="18" ry="26" transform="rotate(25 985 545)"/><ellipse cx="985" cy="545" rx="7" ry="12" transform="rotate(25 985 545)"/><ellipse cx="660" cy="940" rx="18" ry="26" transform="rotate(25 660 940)"/><ellipse cx="660" cy="940" rx="7" ry="12" transform="rotate(25 660 940)"/><path d="M1008.9,571.5 L1158.9,651.5 M1021.1,548.5 L1171.1,628.5 M1012.3,573.3 Q1026.4,566.1 1024.5,550.3 M1019.1,576.9 Q1033.3,569.7 1031.3,554 M1025.9,580.6 Q1040.1,573.4 1038.2,557.6 M1032.7,584.2 Q1046.9,577 1045,561.3 M1039.6,587.8 Q1053.7,580.6 1051.8,564.9 M1046.4,591.5 Q1060.5,584.3 1058.6,568.5 M1053.2,595.1 Q1067.3,587.9 1065.4,572.2 M1060,598.7 Q1074.2,591.6 1072.3,575.8 M1066.8,602.4 Q1081,595.2 1079.1,579.4 M1073.7,606 Q1087.8,598.8 1085.9,583.1 M1080.5,609.7 Q1094.6,602.5 1092.7,586.7 M1087.3,613.3 Q1101.4,606.1 1099.5,590.3 M1094.1,616.9 Q1108.3,609.7 1106.3,594 M1100.9,620.6 Q1115.1,613.4 1113.2,597.6 M1107.7,624.2 Q1121.9,617 1120,601.3 M1114.6,627.8 Q1128.7,620.6 1126.8,604.9 M1121.4,631.5 Q1135.5,624.3 1133.6,608.5 M1128.2,635.1 Q1142.3,627.9 1140.4,612.2 M1135,638.7 Q1149.2,631.6 1147.3,615.8 M1141.8,642.4 Q1156,635.2 1154.1,619.4 M1148.7,646 Q1162.8,638.8 1160.9,623.1 M1155.5,649.7 Q1169.6,642.5 1167.7,626.7"/><ellipse cx="1015" cy="560" rx="6" ry="13" transform="rotate(-60 1015 560)"/><ellipse cx="1188" cy="652" rx="20" ry="28" transform="rotate(25 1188 652)"/><ellipse cx="1188" cy="652" rx="9" ry="13" transform="rotate(25 1188 652)"/><path d="M1160,630 L1180,625 M1160,660 L1185,675"/><path d="M685,964.8 L790,1017.8 M695,945.2 L800,998.2 M689.1,966.9 Q700.9,960.5 699,947.2 M697.2,970.9 Q709,964.6 707.1,951.3 M705.2,975 Q717.1,968.7 715.1,955.4 M713.3,979.1 Q725.1,972.7 723.2,959.4 M721.4,983.2 Q733.2,976.8 731.3,963.5 M729.5,987.2 Q741.3,980.9 739.4,967.6 M737.5,991.3 Q749.4,985 747.5,971.7 M745.6,995.4 Q757.5,989 755.5,975.8 M753.7,999.5 Q765.5,993.1 763.6,979.8 M761.8,1003.6 Q773.6,997.2 771.7,983.9 M769.9,1007.6 Q781.7,1001.3 779.8,988 M777.9,1011.7 Q789.8,1005.4 787.8,992.1 M786,1015.8 Q797.8,1009.4 795.9,996.1"/><ellipse cx="690" cy="955" rx="5" ry="11" transform="rotate(-60 690 955)"/><ellipse cx="805" cy="1018" rx="16" ry="24" transform="rotate(25 805 1018)"/><path d="M800,1012 L812,1022 M810,1010 L802,1025"/></g><g transform="translate(1080,1820) scale(0.191327)"><path d="M410,255 L760,98 L805,118 L808,130 L848,112 L990,185 L992,200 L940,825 L600,965 L380,815 M410,255 L390,370 L432,395 L412,670 L385,680 L380,810"/><path d="M440,270 L615,435 M555,370 L615,430 L632,485 L600,905 M680,440 L880,380 Q905,390 915,430 M735,180 L740,300 L830,345 L835,130 M735,175 L850,130 M870,235 L990,200 M575,180 L720,290 L820,355 M600,335 L700,298 M605,345 L705,308 M830,345 L840,370"/><path d="M705,470 L920,540 L915,605 L890,790 Q870,835 820,850 L700,870 Q665,860 660,830 L660,650 Q665,560 700,470 Z M720,450 L920,530 M660,660 L860,780 M700,470 L700,600"/><ellipse cx="775" cy="265" rx="35" ry="35"/><path d="M380,815 L330,1040 L345,1045 M390,850 L520,1460 M600,965 L510,1460 M650,970 L560,1450 L700,1390 L620,1170 M860,870 L780,1300 L720,1568 M820,880 L760,1090 M380,840 L420,860"/><ellipse cx="490" cy="1045" rx="38" ry="70" transform="rotate(-10 490 1045)"/><ellipse cx="725" cy="1000" rx="35" ry="65" transform="rotate(-10 725 1000)"/><path d="M55,630 L130,595 L200,620 M55,630 L80,640 L130,598 M55,630 Q90,800 100,1000 Q97,1150 96,1250 M80,640 L300,1000 M130,600 L410,1320 M200,620 L270,1170 M0,1370 L80,1370 M120,660 L340,1200 M340,1200 L480,1568"/></g><g transform="translate(1120,1560) scale(0.191327)"><path d="M1022,480 L1022,830"/><path d="M560,810 L760,712 Q790,700 822,715 L1140,890 L1185,865 L1330,945 L1330,1010 L1200,1078 M560,810 L560,870 L640,910 M560,870 L600,890 M640,910 L800,960 L800,940 M1140,890 L1140,905 M1185,920 L1330,945 M1330,1010 L1310,1000 M1185,920 L1190,1020"/><path d="M705,800 L740,782 L760,790 L760,770 M705,800 L920,925 L1030,870 L800,768 L800,800 L770,818 Z M770,818 L950,910"/><path d="M620,930 L590,945 L580,960 L580,1000 L600,1010 L660,1040 L710,1015 L700,1000 M600,930 L680,975 M590,1015 L520,1050 Q490,1070 490,1110 L490,1160 L555,1200 L555,1285 L705,1365 L810,1305 M520,1140 L510,1130 M575,1180 L600,1195 L560,1210 M560,1235 L650,1280 M710,1340 L710,1365 M760,1270 L800,1250"/><ellipse cx="1010" cy="1170" rx="205" ry="135" transform="rotate(-35 1010 1170)"/><ellipse cx="1005" cy="1175" rx="185" ry="118" transform="rotate(-35 1005 1175)"/><path d="M1215,925 Q1190,925 1185,940 Q1190,960 1220,955"/></g><g transform="translate(310,840) scale(0.331633)"><path d="M110,1568 Q50,1545 30,1480 Q22,1300 50,1100 Q75,950 130,790 Q190,680 300,592 Q420,520 700,370 Q1000,200 1200,80 Q1290,20 1340,12 Q1400,15 1430,110 Q1470,250 1505,420 Q1535,580 1530,680 Q1520,760 1470,850 Q1420,940 1330,1030 Q1150,1200 950,1360 Q820,1460 700,1520 Q600,1560 500,1568"/><path d="M95,1240 Q100,1100 140,900 Q180,790 240,720 M290,565 L735,318 M1230,240 L900,430 Q700,540 560,640 Q430,715 350,790 Q290,880 255,1000 L232,1230"/><path d="M240,1490 Q245,1300 262,1160 Q290,950 340,830 Q420,730 560,655 L1000,425 L1330,235 Q1380,232 1415,275 Q1455,360 1480,480 Q1500,600 1500,700 Q1495,780 1440,860 Q1300,1020 1170,1135 Q1000,1270 880,1360 Q790,1420 700,1460 Q600,1500 450,1520 L260,1525"/><path d="M260,1560 Q420,1545 600,1510 Q760,1460 900,1370 L1165,1140 M1330,240 Q1420,250 1460,330 Q1500,450 1515,600 Q1525,700 1480,790 M1390,930 L1150,1150"/><path d="M665,1000 Q700,1090 790,1135 Q870,1150 950,1110 Q1050,1040 1095,920 Q1125,800 1100,690 Q1080,610 1010,575 Q950,555 880,570 M555,1000 Q540,850 600,720 Q640,640 700,600"/><path d="M820,500 L820,560 L930,610 L940,570 Q1000,550 1070,590 M820,500 L870,490 Q960,490 1010,530 M695,595 L810,650 L820,695 L930,625 M930,560 L930,625"/><path d="M710,990 Q700,900 730,830 M740,840 L940,870 L950,740 L1010,720 L1040,690 Q1070,720 1065,800 L1005,830 L940,790 M830,890 L940,960 L940,1000 L830,1000 M820,960 L810,1030 L850,1060 L830,1100 L870,1080 M700,960 L745,990 L710,1000 Z"/><path d="M560,1000 L660,1060 L700,1100 M650,1000 L670,1100"/><ellipse cx="485" cy="852" rx="52" ry="62" transform="rotate(20 485 852)"/><path d="M455,820 Q480,850 475,890 M520,810 Q540,840 530,880"/><ellipse cx="430" cy="1010" rx="55" ry="62" transform="rotate(20 430 1010)"/><ellipse cx="440" cy="1015" rx="35" ry="42" transform="rotate(20 440 1015)"/><ellipse cx="575" cy="1168" rx="55" ry="62" transform="rotate(20 575 1168)"/><path d="M545,1135 Q570,1160 565,1200"/><ellipse cx="1040" cy="505" rx="45" ry="50" transform="rotate(20 1040 505)"/><path d="M1000,480 Q1030,510 1025,545"/><ellipse cx="1130" cy="600" rx="52" ry="60" transform="rotate(20 1130 600)"/><ellipse cx="1140" cy="605" rx="32" ry="40" transform="rotate(20 1140 605)"/><path d="M1280,365 Q1240,350 1228,390 Q1230,420 1262,425 M1330,680 Q1290,665 1275,705 Q1278,740 1310,745 M790,1270 Q750,1255 735,1295 Q738,1330 770,1335"/><path d="M1310,450 L1365,400 L1470,450 L1470,520 M1310,450 L1310,545 L1350,560 L1390,540 L1470,580 M1365,400 L1365,500 L1470,520"/><path d="M1060,1060 L1170,930 L1290,995 L1295,1120 L1180,1140 M1060,1060 L1060,1090 L1160,1140 M1170,930 L1190,950 L1190,1130"/><path d="M680,1150 L700,1135 L855,1140 L855,1170 L700,1255 L680,1240 Z"/><path d="M345,1440 L375,1385 L460,1370 Q475,1385 465,1410 L560,1450 L580,1480 L490,1495 L345,1470 Z M365,1440 L560,1450"/><g transform="translate(690,455) rotate(-30)"><text x="0" y="0" font-family="Liberation Sans" font-weight="bold" font-size="72" fill="#000" stroke="none">F</text><path d="M92,-46 L92,-6 L58,-26 Z"/><text x="104" y="0" font-family="Liberation Sans" font-weight="bold" font-size="72" fill="#000" stroke="none">N</text><path d="M168,-46 L168,-6 L202,-26 Z"/><text x="214" y="0" font-family="Liberation Sans" font-weight="bold" font-size="72" fill="#000" stroke="none">R</text></g></g><g transform="translate(720,1080) scale(0.331633)"><path d="M1100,120 Q1150,108 1200,118 Q1260,140 1280,220 Q1310,380 1340,560 Q1345,640 1310,720 Q1230,880 1100,1000 Q960,1130 800,1230 Q700,1290 600,1330 Q450,1390 300,1410 L170,1415 Q90,1400 60,1320 Q45,1230 60,1100 L95,900 Q120,760 180,680 Q250,600 400,510 Q600,390 800,280 Q950,200 1100,120 Z"/><path d="M640,360 Q800,280 950,210 Q1050,150 1140,125 M105,1020 L90,1270"/><path d="M470,940 Q480,800 560,650 Q650,500 780,430 Q860,390 940,392 Q1040,400 1080,450 Q1100,490 1110,570 L1240,510 Q1258,515 1255,540 L1250,600 L1110,680 Q1100,780 1060,880 Q1000,1010 900,1120 Q800,1200 650,1220 Q560,1210 505,1140 Q480,1100 470,1050 L370,1110 Q330,1110 325,1080 L325,1025 L470,940"/><path d="M90,1270 Q200,1250 350,1232 Q420,1245 470,1280 Q560,1320 660,1320 Q720,1290 760,1260 M95,1265 Q300,1215 420,1192 Q480,1190 510,1210 M1300,605 Q1220,650 1170,690 Q1120,740 1100,790 M1290,625 Q1200,680 1150,730 Q1090,800 1070,850 Q1040,960 980,1050 Q900,1150 800,1210 Q760,1240 700,1270 M760,1260 L760,1240 M1250,550 L1240,600 L1180,640"/><path d="M865,712 L1000,640 Q1050,650 1055,700 L1052,772 L905,855 L865,835 Z M865,712 L905,735 L1050,655 M905,735 L905,855 M880,720 L880,840 M895,728 L895,850 M925,690 L1010,648 M940,700 L1020,660"/><path d="M510,915 L670,830 L708,848 L708,968 L562,1035 Q520,1030 515,1000 Z M510,915 L530,930 L700,842 M530,930 L530,1030 M518,925 L518,1010 M575,880 L670,835 M590,890 L680,845"/></g><g transform="translate(1040,470) scale(0.191327)"><path d="M190,285 L300,240 Q400,185 500,185 Q600,195 700,268 Q800,360 830,500 Q845,620 822,730 L795,850 M300,330 Q420,272 560,262 Q650,265 720,300 Q790,360 812,480 Q826,600 808,700 L780,840 M720,390 Q680,350 600,342 Q520,340 420,370"/><path d="M600,345 Q650,430 652,640 M420,520 L640,640 M805,650 L790,760"/><path d="M190,285 L190,612 L322,668 L415,612 L415,372 L330,386 L300,330 M330,386 L328,668 M190,612 L60,720 M190,580 L60,720 M100,715 L200,760"/><path d="M205,760 Q300,652 450,630 Q600,615 680,680 Q710,730 705,800 M205,760 L185,830 Q162,950 165,1140 Q220,1230 340,1245 Q420,1245 462,1205 M415,688 Q480,650 560,645"/><path d="M300,1000 Q300,850 380,780 Q450,722 540,720 Q640,730 700,800 M300,1000 Q310,1120 380,1170 L462,1205 M230,1010 Q215,1100 240,1180"/><path d="M470,1200 Q450,1100 480,980 Q520,870 600,830 Q650,810 700,812 L862,890 Q888,910 885,935 M490,1210 Q470,1100 500,990 Q540,880 640,840"/><path d="M665,975 L1140,1090 M700,920 L1130,1085 M690,945 L1010,1160 M830,905 L1120,1070 M580,1180 Q560,1100 600,1020 Q640,975 665,975 M480,1200 L660,1290 L950,1440 M700,925 L760,905 L830,910"/><ellipse cx="1060" cy="1262" rx="128" ry="185" transform="rotate(15 1060 1262)" stroke-dasharray="30,8"/><path d="M950,1440 L965,1405 L990,1445 L1010,1400 L1035,1440 L1050,1395 L1075,1420"/><path d="M1115,1220 Q1060,1190 1030,1230 Q1005,1290 1020,1340 Q1050,1350 1070,1330"/></g><g transform="translate(500,480) scale(0.191327)"><path d="M1250,975 L1250,1180"/><path d="M1175,925 L1225,720 L1255,685 L1410,580 L1568,668 M1255,685 L1365,752 L1545,672 M1365,752 L1345,870 L1335,950 L1350,985 L1330,1005 L1175,925 M1545,672 L1545,810 L1568,822"/><path d="M185,784 L185,840 L215,860 L215,880 L320,910 L405,870 L405,800 L440,775 L440,784 M215,860 L320,895 L405,855 M320,895 L320,910 M355,760 L355,790 L405,770"/></g><g transform="translate(1480,2020) scale(0.191327)"><path d="M915,1075 L915,1410"/><path d="M640,560 Q660,480 720,455 L830,400 L1110,550 M640,560 L640,590 L630,610 L635,820 Q650,860 700,880 L850,965"/><path d="M910,695 Q960,600 1060,565 L1190,535 Q1250,580 1292,690 Q1262,720 1242,860 Q1225,950 1200,980 Q1120,1050 1030,1092 L960,1087 Q880,1062 860,1032 Q845,990 855,900 Q880,780 910,695 Z"/><path d="M1000,1082 Q1010,960 1060,850 Q1085,800 1290,690 M1080,750 L985,665 M925,700 Q960,630 1010,600 Q1060,578 1100,568"/><path d="M745,455 L830,425 L905,470 L905,485 L840,515 L745,470 Z M770,460 L840,440 L880,470 L840,490 Z M705,515 L900,625"/><path d="M568,605 L580,598 L712,660 L712,735 L680,750 L570,690 Z M640,625 L712,660 M640,625 L640,740 M400,565 L570,612 M370,665 L630,752"/><text x="0" y="0" transform="translate(1085,840) rotate(-20)" font-family="Liberation Sans" font-weight="bold" font-style="italic" font-size="130" fill="#000" stroke="none">UP</text><text x="0" y="0" transform="translate(1030,1060) rotate(-15)" font-family="Liberation Sans" font-weight="bold" font-size="120" fill="#000" stroke="none">D N</text></g><g transform="translate(1500,1900) scale(0.325255)"><path d="M1026,572 Q960,660 900,740 Q840,820 780,912 M933,676 L860,760 L800,840 L780,912 M780,912 L790,860 L800,840"/></g><g transform="translate(250,2360) scale(0.114796)"><path fill="#000" stroke="#000" d="M190,1080 L538,518 L600,545 L605,598 L1272,222 L1342,262 L1342,718 L608,1148 L608,1292 Z"/><path fill="#fff" stroke="none" d="M218,1072 L545,548 L572,562 L252,1092 Z M612,622 L1278,252 L1306,268 L612,655 Z"/><text fill="#fff" stroke="none" font-family="Liberation Sans" font-weight="bold" font-size="570" transform="matrix(0.5,-0.28,0,1,600,1066)" x="0" y="0" letter-spacing="70">FWD</text></g><g transform="translate(0,0) scale(1.000000)"><path d="M1250,1099.3 L1581.1,1287.8 L1902.6,1103 L1859.2,1080"/></g><g transform="translate(0,0) scale(1.000000)"><text fill="#000" stroke="#000" stroke-width="1.3" font-family="Liberation Sans" font-weight="bold" font-size="45.4" transform="translate(216,2734.8) scale(0.70,1)">DF350A_E11_021_520A</text><text fill="#000" stroke="#000" stroke-width="1.3" font-family="Liberation Sans" font-weight="bold" font-size="45.4" transform="translate(217,2789.5) scale(0.697,1)">OPT:FLUSH MOUNT REMOCON</text></g></g><text class="L" transform="translate(328.2,506.3) scale(0.915,1)" x="-1.3" y="0">53</text><text class="L" transform="translate(598.6,322.9) scale(0.915,1)" x="-1.3" y="0">43</text><text class="L" transform="translate(659.2,367.6) scale(0.915,1)" x="-1.3" y="0">44</text><text class="L" transform="translate(850.5,286.9) scale(0.915,1)" x="-1.3" y="0">45</text><text class="L" transform="translate(924.8,323.9) scale(0.915,1)" x="-1.3" y="0">30</text><text class="L" transform="translate(743.7,343) scale(0.915,1)" x="-1.3" y="0">41</text><text class="L" transform="translate(798.2,395.3) scale(0.915,1)" x="-1.3" y="0">42</text><text class="L" transform="translate(968.5,375.5) scale(0.915,1)" x="-1.3" y="0">30</text><text class="L" transform="translate(1026.8,363.4) scale(0.915,1)" x="-1.3" y="0">32</text><text class="L" transform="translate(1106.6,429.7) scale(0.915,1)" x="-1.3" y="0">31</text><text class="L" transform="translate(858.5,500.5) scale(0.915,1)" x="-1.3" y="0">50</text><text class="L" transform="translate(704.8,529.2) scale(0.915,1)" x="-1.3" y="0">30</text><text class="L" transform="translate(1220.9,449.4) scale(0.915,1)" x="-1.3" y="0">36</text><text class="L" transform="translate(1321.4,542) scale(0.915,1)" x="-1.3" y="0">46</text><text class="L" transform="translate(1388.5,557.8) scale(0.915,1)" x="-1.3" y="0">30</text><text class="L" transform="translate(1455.6,594.8) scale(0.915,1)" x="-1.3" y="0">37</text><text class="L" transform="translate(1294.5,345) scale(0.915,1)" x="-1.3" y="0">1</text><text class="L" transform="translate(1531.3,753.6) scale(0.915,1)" x="-1.3" y="0">40</text><text class="L" transform="translate(1279.4,899.4) scale(0.915,1)" x="-1.3" y="0">38</text><text class="L" transform="translate(1331.4,922.6) scale(0.915,1)" x="-1.3" y="0">39</text><text class="L" transform="translate(1392.6,953.6) scale(0.915,1)" x="-1.3" y="0">47</text><text class="L" transform="translate(1455.4,982.3) scale(0.915,1)" x="-1.3" y="0">47</text><text class="L" transform="translate(1724,734) scale(0.915,1)" x="-1.3" y="0">18</text><text class="L" transform="translate(561.6,1741.9) scale(0.915,1)" x="-1.3" y="0">4</text><text class="L" transform="translate(471.7,1768) scale(0.915,1)" x="-1.3" y="0">16</text><text class="L" transform="translate(524.5,1797.4) scale(0.915,1)" x="-1.3" y="0">44</text><text class="L" transform="translate(693.6,2092.1) scale(0.915,1)" x="-1.3" y="0">55</text><text class="L" transform="translate(1017.7,1600.4) scale(0.915,1)" x="-1.3" y="0">14</text><text class="L" transform="translate(1160.8,1621.4) scale(0.915,1)" x="-1.3" y="0">11</text><text class="L" transform="translate(839.8,1783.3) scale(0.915,1)" x="-1.3" y="0">8</text><text class="L" transform="translate(1037.6,1770.6) scale(0.915,1)" x="-1.3" y="0">17</text><text class="L" transform="translate(785.1,1856) scale(0.915,1)" x="-1.3" y="0">9</text><text class="L" transform="translate(985.2,1908.4) scale(0.915,1)" x="-1.3" y="0">11</text><text class="L" transform="translate(785.1,1986.1) scale(0.915,1)" x="-1.3" y="0">29</text><text class="L" transform="translate(964.9,2040.4) scale(0.915,1)" x="-1.3" y="0">10</text><text class="L" transform="translate(982.1,2095.9) scale(0.915,1)" x="-1.3" y="0">12</text><text class="L" transform="translate(1268,2068) scale(0.915,1)" x="-1.3" y="0">21</text><text class="L" transform="translate(1295.7,1644.4) scale(0.915,1)" x="-1.3" y="0">15</text><text class="L" transform="translate(1416.3,1722.8) scale(0.915,1)" x="-1.3" y="0">7</text><text class="L" transform="translate(1705.2,1772.6) scale(0.915,1)" x="-1.3" y="0">6</text><text class="L" transform="translate(1475.6,1866.3) scale(0.915,1)" x="-1.3" y="0">5</text><text class="L" transform="translate(1583.9,1904.6) scale(0.915,1)" x="-1.3" y="0">13</text><text class="L" transform="translate(1329,2023.2) scale(0.915,1)" x="-1.3" y="0">27</text><text class="L" transform="translate(1363.9,2235.2) scale(0.915,1)" x="-1.3" y="0">27</text><text class="L" transform="translate(1280.1,2292.6) scale(0.915,1)" x="-1.3" y="0">20</text><text class="L" transform="translate(1391.7,2340.4) scale(0.915,1)" x="-1.3" y="0">27</text><text class="L" transform="translate(1328.9,2376.4) scale(0.915,1)" x="-1.3" y="0">22</text><text class="L" transform="translate(1442.7,2360.5) scale(0.915,1)" x="-1.3" y="0">54</text><text class="L" transform="translate(1255.5,2503) scale(0.915,1)" x="-1.3" y="0">48</text><text class="L" transform="translate(511.4,1450.1) scale(0.915,1)" x="-1.3" y="0">2</text><text class="L" transform="translate(542.9,780.4) scale(0.915,1)" x="-1.3" y="0">49</text><text class="L" transform="translate(474.6,933.1) scale(0.915,1)" x="-1.3" y="0">25</text><text class="L" transform="translate(848.2,953.2) scale(0.915,1)" x="-1.3" y="0">23</text><text class="L" transform="translate(965.4,1029.6) scale(0.915,1)" x="-1.3" y="0">26</text><text class="L" transform="translate(1073.9,1047) scale(0.915,1)" x="-1.3" y="0">3</text><text class="L" transform="translate(1008.3,1272.6) scale(0.915,1)" x="-1.3" y="0">51</text><text class="L" transform="translate(916.5,1466.8) scale(0.915,1)" x="-1.3" y="0">51</text><text class="L" transform="translate(616.5,1426.7) scale(0.915,1)" x="-1.3" y="0">23</text><text class="L" transform="translate(685.5,1446.7) scale(0.915,1)" x="-1.3" y="0">24</text><text class="L" transform="translate(719,741.6) scale(0.915,1)" x="-1.3" y="0">19</text><text class="L" transform="translate(933.2,807.2) scale(0.915,1)" x="-1.3" y="0">35</text><text class="L" transform="translate(883,844) scale(0.915,1)" x="-1.3" y="0">34</text><text class="L" transform="translate(839.5,860.8) scale(0.915,1)" x="-1.3" y="0">33</text><text class="L" transform="translate(615.8,654.1) scale(0.915,1)" x="-1.3" y="0">28</text><text class="L" transform="translate(1635,2327.8) scale(0.915,1)" x="-1.3" y="0">52</text></svg>
</body></html>
